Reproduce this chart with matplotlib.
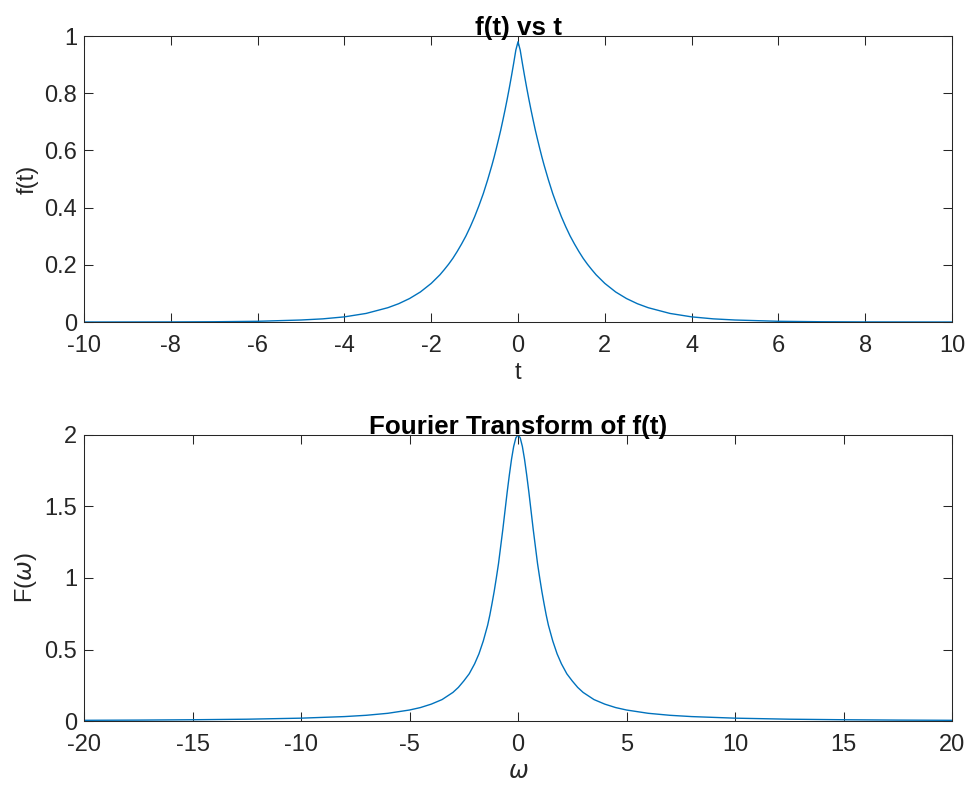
import matplotlib
import numpy as np

matplotlib.use("Agg")
import matplotlib.pyplot as plt

# f(t) (symmetric about t = 0)
t_half = [0.0, 0.05, 0.1, 0.15, 0.2, 0.25, 0.3, 0.35, 0.4, 0.45, 0.5, 0.55,
          0.6, 0.7, 0.8, 0.9, 1.0, 1.1, 1.2, 1.3, 1.4, 1.5, 1.6, 1.7, 1.8,
          1.9, 2.0, 2.25, 2.5, 2.75, 3.0, 3.5, 4.0, 4.5, 5.0, 6.0, 7.0, 8.0,
          10.0]
f_half = [0.98, 0.951, 0.905, 0.861, 0.819, 0.779, 0.741, 0.705, 0.670, 0.638,
          0.607, 0.577, 0.549, 0.497, 0.449, 0.407, 0.368, 0.333, 0.301, 0.273,
          0.247, 0.223, 0.202, 0.183, 0.165, 0.15, 0.135, 0.105, 0.082, 0.064,
          0.05, 0.03, 0.018, 0.011, 0.007, 0.0025, 0.0009, 0.0003, 0.0]

# F(omega) (symmetric about omega = 0)
w_half = [0.0, 0.1, 0.2, 0.3, 0.4, 0.5, 0.6, 0.7, 0.8, 0.9, 1.0, 1.1, 1.2,
          1.3, 1.4, 1.6, 1.8, 2.0, 2.25, 2.5, 2.75, 3.0, 3.5, 4.0, 4.5, 5.0,
          6.0, 7.0, 8.0, 10.0, 12.5, 15.0, 17.5, 20.0]
F_half = [2.0, 1.98, 1.92, 1.83, 1.72, 1.6, 1.47, 1.34, 1.22, 1.10, 1.0, 0.905,
          0.82, 0.74, 0.67, 0.56, 0.47, 0.40, 0.33, 0.28, 0.235, 0.20, 0.15,
          0.118, 0.094, 0.077, 0.054, 0.04, 0.031, 0.02, 0.0127, 0.0089,
          0.0065, 0.005]

t_ticks = [-10, -8, -6, -4, -2, 0, 2, 4, 6, 8, 10]
f_ticks = [0, 0.2, 0.4, 0.6, 0.8, 1]
w_ticks = [-20, -15, -10, -5, 0, 5, 10, 15, 20]
F_ticks = [0, 0.5, 1, 1.5, 2]


def _mirror(x, y):
    x = np.asarray(x)
    y = np.asarray(y)
    return np.concatenate([-x[:0:-1], x]), np.concatenate([y[:0:-1], y])


def _fmt(v):
    return f"{v:g}"


plt.rcParams["font.family"] = ["Liberation Sans", "DejaVu Sans"]
plt.rcParams["mathtext.fontset"] = "dejavusans"

LINE = "#0072BD"
AXC = "#262626"
FS = 17

fig = plt.figure(figsize=(9.67, 7.85), dpi=100)
top = fig.add_axes([0.0869, 0.5898, 0.8976, 0.3643])
bot = fig.add_axes([0.0869, 0.0815, 0.8976, 0.3644])

t, f = _mirror(t_half, f_half)
w, F = _mirror(w_half, F_half)

top.plot(t, f, color=LINE, linewidth=1.0)
bot.plot(w, F, color=LINE, linewidth=1.0)

panels = [
    (top, t_ticks, f_ticks, (-10, 10), (0, 1), "t", "f(t)", "f(t) vs t"),
    (bot, w_ticks, F_ticks, (-20, 20), (0, 2), r"$\omega$", r"F($\omega$)",
     "Fourier Transform of f(t)"),
]
for ax, xt, yt, xl, yl, xlab, ylab, title in panels:
    ax.set_xlim(*xl)
    ax.set_ylim(*yl)
    ax.set_xticks(xt)
    ax.set_xticklabels([_fmt(v) for v in xt])
    ax.set_yticks(yt)
    ax.set_yticklabels([_fmt(v) for v in yt])
    ax.tick_params(direction="in", length=6.5, width=0.75, colors=AXC,
                   labelsize=FS, top=True, right=True, pad=5)
    ax.tick_params(axis="x", pad=9)
    for sp in ax.spines.values():
        sp.set_color(AXC)
        sp.set_linewidth(0.75)
    ax.set_xlabel(xlab, fontsize=FS, color=AXC, labelpad=4)
    ax.set_ylabel(ylab, fontsize=FS, color=AXC, labelpad=4)
    ax.set_title(title, fontsize=FS * 1.1, fontweight="bold", pad=1)

fig.savefig("out.png", dpi=100)
plt.close(fig)
